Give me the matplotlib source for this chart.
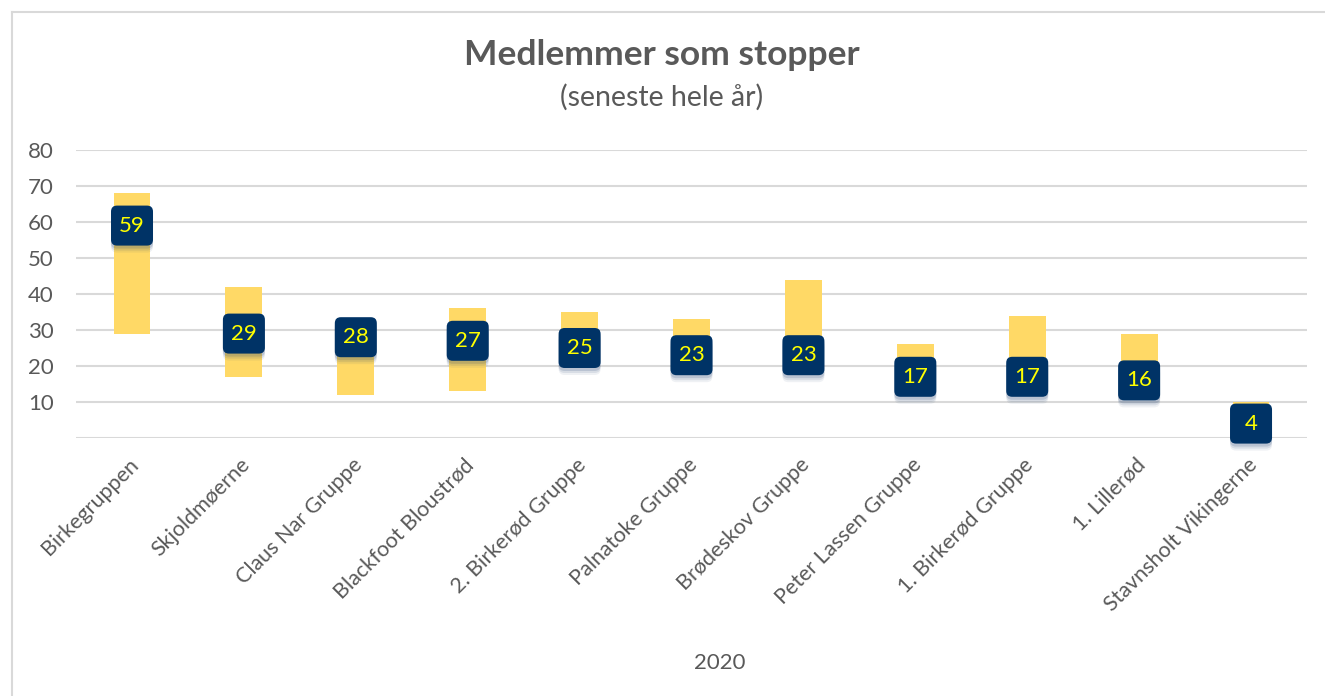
import numpy as np
import matplotlib
matplotlib.use('Agg')
import matplotlib.pyplot as plt
from matplotlib import transforms
from matplotlib.patches import FancyBboxPatch
from matplotlib.lines import Line2D

plt.rcParams['font.family'] = ['Lato', 'DejaVu Sans']

groups = ['Birkegruppen', 'Skjoldmøerne', 'Claus Nar Gruppe', 'Blackfoot Bloustrød',
          '2. Birkerød Gruppe', 'Palnatoke Gruppe', 'Brødeskov Gruppe',
          'Peter Lassen Gruppe', '1. Birkerød Gruppe', '1. Lillerød',
          'Stavnsholt Vikingerne']
low = [29, 17, 12, 13, 21, 19, 19, 14, 14, 13, 1]
high = [68, 42, 32, 36, 35, 33, 44, 26, 34, 29, 10]
stopped = [59, 29, 28, 27, 25, 23, 23, 17, 17, 16, 4]
yticks = [0, 10, 20, 30, 40, 50, 60, 70, 80]

grey = '#595959'
navy = '#003366'

fig = plt.figure(figsize=(13.25, 6.96), dpi=100)
ax = fig.add_axes([0.0574, 0.3707, 0.929, 0.4138])

x = np.arange(len(groups))
ax.bar(x, np.array(high) - np.array(low), bottom=low, width=0.33,
       color='#FFD966', zorder=2)

# rounded value boxes, fixed size in inches, placed at data points
for xi, v in zip(x, stopped):
    off = transforms.ScaledTranslation(xi, v, ax.transData)
    tr = fig.dpi_scale_trans + off
    # soft shadow
    for k, a in [(0.07, 0.07), (0.05, 0.11), (0.03, 0.16)]:
        sh = FancyBboxPatch((-0.21, -0.20 - k), 0.42, 0.40,
                            boxstyle='round,pad=0,rounding_size=0.06',
                            fc='#1F3F6F', ec='none', alpha=a,
                            transform=tr, zorder=3, clip_on=False)
        ax.add_patch(sh)
    box = FancyBboxPatch((-0.21, -0.20), 0.42, 0.40,
                         boxstyle='round,pad=0,rounding_size=0.06',
                         fc=navy, ec='none', transform=tr, zorder=4,
                         clip_on=False)
    ax.add_patch(box)
    ax.text(xi, v, str(v), ha='center', va='center', color='#FFFF00',
            fontsize=16, zorder=5)

ax.set_xlim(-0.5, len(groups) - 0.5)
ax.set_ylim(0, 80)
ax.set_yticks(yticks)
ax.set_yticklabels([''] + [str(t) for t in yticks[1:]])
ax.yaxis.grid(True, color='#D9D9D9', linewidth=1.5, zorder=0)
ax.set_axisbelow(True)
for s in ax.spines.values():
    s.set_visible(False)
ax.tick_params(axis='y', length=0, pad=16, labelsize=16, labelcolor=grey)
ax.set_xticks(x)
ax.set_xticklabels(groups, rotation=45, ha='right', va='top',
                   rotation_mode='anchor', fontsize=15.5, color=grey)
ax.tick_params(axis='x', length=0, pad=12)
for lbl in ax.get_xticklabels():
    lbl.set_transform(lbl.get_transform() +
                      transforms.ScaledTranslation(-0.04, 0, fig.dpi_scale_trans))

fig.text(662 / 1325, 1 - 55 / 696, 'Medlemmer som stopper', ha='center',
         va='center', fontsize=25.5, fontweight='bold', color=grey)
fig.text(662 / 1325, 1 - 97 / 696, '(seneste hele år)', ha='center',
         va='center', fontsize=20.5, color=grey)
fig.text(720 / 1325, 1 - 663 / 696, '2020', ha='center', va='center',
         fontsize=16, color=grey)

# chart frame (left and top edges visible)
fig.add_artist(Line2D([12 / 1325, 12 / 1325], [0, 1 - 12 / 696],
                      transform=fig.transFigure, color='#D9D9D9', lw=1.5))
fig.add_artist(Line2D([12 / 1325, 1], [1 - 12 / 696, 1 - 12 / 696],
                      transform=fig.transFigure, color='#D9D9D9', lw=1.5))

fig.savefig('out.png', dpi=100)
